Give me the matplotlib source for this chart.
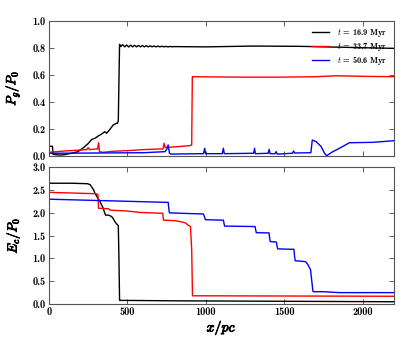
import matplotlib
matplotlib.use("Agg")
import matplotlib.pyplot as plt
import matplotlib.patheffects as pe

plt.rcParams['mathtext.fontset'] = 'cm'
plt.rcParams['font.family'] = ['cmb10', 'DejaVu Serif']
plt.rcParams['axes.unicode_minus'] = False

# ---- data (x in pc) ----
blk_top_x = [0, 22, 26, 40, 70, 100, 150, 185, 220, 250, 272, 295, 314, 335, 356, 367, 385, 409, 430, 437, 442, 446,
             450, 458, 470, 483, 495, 508, 520, 533, 545, 558, 570, 583, 595, 608, 620, 633, 645, 658, 670, 683,
             695, 708, 720, 733, 745, 758, 770, 783, 800, 1000, 1300, 1600, 1800, 2000, 2200]
blk_top_y = [0.07, 0.07, 0.01, 0.008, 0.005, 0.008, 0.02, 0.03, 0.06, 0.09, 0.12, 0.13, 0.146, 0.16, 0.178, 0.166, 0.19, 0.227, 0.24, 0.24, 0.26, 0.55,
             0.825, 0.808, 0.822, 0.806, 0.820, 0.805, 0.819, 0.806, 0.818, 0.806, 0.817, 0.806, 0.816, 0.806, 0.815, 0.806, 0.814, 0.806, 0.813, 0.806,
             0.812, 0.806, 0.811, 0.806, 0.810, 0.806, 0.809, 0.807, 0.808, 0.806, 0.812, 0.81, 0.805, 0.80, 0.795]

red_top_x = [0, 100, 200, 240, 250, 258, 300, 310, 316, 322, 344, 400, 535, 600, 707, 727, 734, 741, 749, 800, 850, 900, 910, 914, 918,
             1200, 1500, 1700, 1830, 2000, 2200]
red_top_y = [0.025, 0.035, 0.042, 0.045, 0.06, 0.045, 0.05, 0.05, 0.096, 0.03, 0.025, 0.032, 0.04, 0.045, 0.05, 0.05, 0.092, 0.06, 0.062, 0.065, 0.07, 0.075, 0.08, 0.585, 0.585,
             0.582, 0.582, 0.585, 0.592, 0.588, 0.585]

blu_top_x = [0, 300, 600, 740, 752, 760, 768, 775, 985, 993, 998, 1105, 1112, 1118, 1305, 1311, 1316, 1398, 1404, 1410,
             1440, 1449, 1455, 1552, 1560, 1566, 1670, 1679, 1704, 1736, 1757, 1772, 1790, 1810, 1852, 1916, 2064, 2200]
blu_top_y = [0.018, 0.02, 0.022, 0.03, 0.05, 0.08, 0.02, 0.012, 0.015, 0.055, 0.015, 0.015, 0.055, 0.015, 0.018, 0.055, 0.015, 0.018, 0.047, 0.015,
             0.015, 0.03, 0.012, 0.018, 0.035, 0.02, 0.022, 0.116, 0.104, 0.067, 0.018, 0.0, 0.015, 0.03, 0.055, 0.096, 0.099, 0.111]

blk_bot_x = [0, 150, 245, 262, 272, 285, 293, 310, 325, 336, 346, 355, 361, 380, 399, 410, 420, 430, 437, 442, 446, 450, 455, 800, 1500, 2200]
blk_bot_y = [2.65, 2.65, 2.64, 2.62, 2.57, 2.50, 2.43, 2.33, 2.25, 2.17, 2.10, 2.00, 1.95, 1.95, 1.92, 1.87, 1.81, 1.76, 1.74, 1.72, 1.0, 0.08, 0.08, 0.07, 0.06, 0.05]

red_bot_x = [0, 300, 312, 316, 380, 390, 500, 580, 650, 725, 730, 800, 834, 870, 887, 902, 910, 915, 1000, 2200]
red_bot_y = [2.45, 2.42, 2.40, 2.10, 2.09, 2.06, 2.04, 2.01, 2.0, 1.99, 1.84, 1.83, 1.81, 1.78, 1.73, 1.70, 1.2, 0.18, 0.18, 0.17]

blu_bot_x = [0, 760, 764, 768, 985, 993, 997, 1112, 1116, 1120, 1314, 1318, 1322, 1403, 1407, 1411, 1450, 1454, 1458,
             1562, 1566, 1570, 1636, 1650, 1668, 1676, 1683, 1690, 1750, 1850, 2200]
blu_bot_y = [2.30, 2.23, 2.1, 2.0, 1.975, 1.9, 1.85, 1.84, 1.77, 1.71, 1.70, 1.63, 1.565, 1.56, 1.45, 1.37, 1.36, 1.28, 1.21,
             1.2, 1.05, 0.95, 0.93, 0.87, 0.75, 0.5, 0.28, 0.27, 0.27, 0.25, 0.25]

labels = [r'$t$ = 16.9 Myr', r'$t$ = 33.7 Myr', r'$t$ = 50.6 Myr']
colors = ['black', 'red', 'blue']
xticks = [0, 500, 1000, 1500, 2000]
top_yticks = [0.0, 0.2, 0.4, 0.6, 0.8, 1.0]
bot_yticks = [0.0, 0.5, 1.0, 1.5, 2.0, 2.5, 3.0]

fig = plt.figure(figsize=(4.07, 3.39), dpi=100)
ax1 = fig.add_axes([0.1204, 0.5407, 0.8476, 0.3983])
ax2 = fig.add_axes([0.1204, 0.1032, 0.8476, 0.4033])

lw = 1.0
ax1.plot(blk_top_x, blk_top_y, color=colors[0], lw=lw, label=labels[0])
ax1.plot(red_top_x, red_top_y, color=colors[1], lw=lw, label=labels[1])
ax1.plot(blu_top_x, blu_top_y, color=colors[2], lw=lw, label=labels[2])
ax2.plot(blk_bot_x, blk_bot_y, color=colors[0], lw=lw)
ax2.plot(red_bot_x, red_bot_y, color=colors[1], lw=lw)
ax2.plot(blu_bot_x, blu_bot_y, color=colors[2], lw=lw)

bold = [pe.withStroke(linewidth=0.6, foreground='black')]
for ax, yt, ylim in [(ax1, top_yticks, (0, 1.0)), (ax2, bot_yticks, (0, 3.0))]:
    ax.set_xlim(0, 2200)
    ax.set_ylim(*ylim)
    ax.set_xticks(xticks)
    ax.set_yticks(yt)
    ax.set_yticklabels([f'{v:.1f}' for v in yt])
    ax.tick_params(direction='in', top=True, right=True, length=3.5, width=0.6,
                   labelsize=7.5, color='#444444', pad=2.5)
    for s in ax.spines.values():
        s.set_color('#555555')
        s.set_linewidth(0.8)

ax1.set_xticklabels([])
ax2.set_xticklabels([str(v) for v in xticks])

ax1.set_ylabel(r'$P_g/P_0$', fontsize=9.5, path_effects=bold)
ax2.set_ylabel(r'$E_c/P_0$', fontsize=9.5, path_effects=bold)
ax2.set_xlabel(r'$x/pc$', fontsize=10, path_effects=bold)
ax1.yaxis.set_label_coords(-0.08, 0.5)
ax2.yaxis.set_label_coords(-0.08, 0.5)
ax2.xaxis.set_label_coords(0.5, -0.105)

ax1.legend(loc='upper right', frameon=False, fontsize=6, handlelength=2.0,
           handletextpad=1.0, labelspacing=0.2, borderaxespad=0.4)

fig.savefig('out.png', dpi=100)
